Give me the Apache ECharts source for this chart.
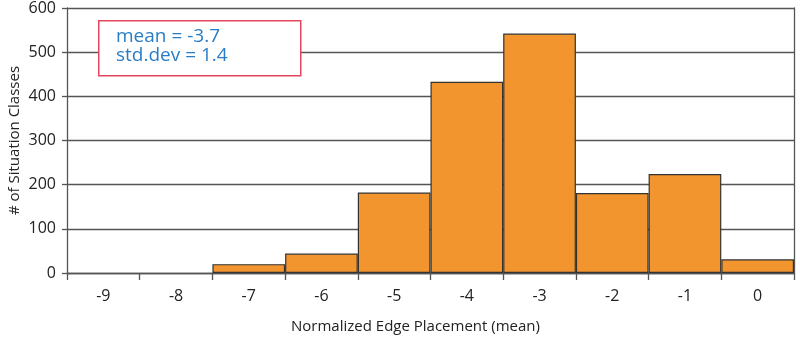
<!DOCTYPE html>
<html>
<head>
<meta charset="utf-8">
<script src="https://cdn.jsdelivr.net/npm/echarts@6/dist/echarts.min.js"></script>
<style>html,body{margin:0;padding:0;background:#fff}#c{width:800px;height:340px}</style>
</head>
<body>
<div id="c"></div>
<script>
const categories = ['-9','-8','-7','-6','-5','-4','-3','-2','-1','0'];
const counts = [0, 0, 20, 44, 182, 433, 542, 181, 224, 31];
const yTicks = [0, 100, 200, 300, 400, 500, 600];
const statLines = ['mean = -3.7', 'std.dev = 1.4'];

const FONT = '"Open Sans"';
const TXT = '#222';
const chart = echarts.init(document.getElementById('c'), null, {renderer: 'canvas'});
chart.setOption({
  animation: false,
  grid: {left: 67, right: 6, top: 8, bottom: 67, containLabel: false, outerBoundsMode: 'none'},
  xAxis: {
    type: 'category',
    data: categories,
    boundaryGap: true,
    name: 'Normalized Edge Placement (mean)',
    nameLocation: 'middle',
    nameGap: 46,
    nameMoveOverlap: false,
    nameTextStyle: {fontFamily: FONT, fontSize: 15, color: TXT, padding: [0, 30, 0, 0]},
    axisLine: {show: true, lineStyle: {color: '#555', width: 1.3}},
    axisTick: {show: true, length: 7, alignWithLabel: false, lineStyle: {color: '#555', width: 1.3}},
    axisLabel: {fontFamily: FONT, fontSize: 16, color: TXT, margin: 15},
    splitLine: {show: false}
  },
  yAxis: [{
    type: 'value',
    min: yTicks[0],
    max: yTicks[yTicks.length - 1],
    interval: 100,
    name: '# of Situation Classes',
    nameLocation: 'middle',
    nameGap: 45,
    nameMoveOverlap: false,
    nameTextStyle: {fontFamily: FONT, fontSize: 15, color: TXT},
    axisLine: {show: true, lineStyle: {color: '#555', width: 1.3}},
    axisTick: {show: true, length: 5, lineStyle: {color: '#555', width: 1.3}},
    axisLabel: {fontFamily: FONT, fontSize: 16, color: TXT, margin: 11},
    splitLine: {show: true, lineStyle: {color: '#555', width: 1.3}}
  }, {
    type: 'value',
    position: 'right',
    min: yTicks[0],
    max: yTicks[yTicks.length - 1],
    interval: 100,
    axisLine: {show: true, lineStyle: {color: '#555', width: 1.3}},
    axisTick: {show: false},
    axisLabel: {show: false},
    splitLine: {show: false}
  }],
  series: [{
    type: 'bar',
    data: counts.map(v => (v === 0 ? null : v)),
    barCategoryGap: '0%',
    itemStyle: {color: '#f3952e', borderColor: '#333', borderWidth: 1.2}
  }],
  graphic: [{
    type: 'rect',
    left: 98, top: 20,
    shape: {width: 202, height: 55},
    style: {fill: '#fff', stroke: '#e4475c', lineWidth: 1.5},
    z: 100
  }, {
    type: 'text',
    left: 116, top: 27,
    style: {text: statLines.join('\n'), fill: '#2a7dc4', font: '19px ' + FONT, lineHeight: 19},
    z: 101
  }]
});
</script>
</body>
</html>
